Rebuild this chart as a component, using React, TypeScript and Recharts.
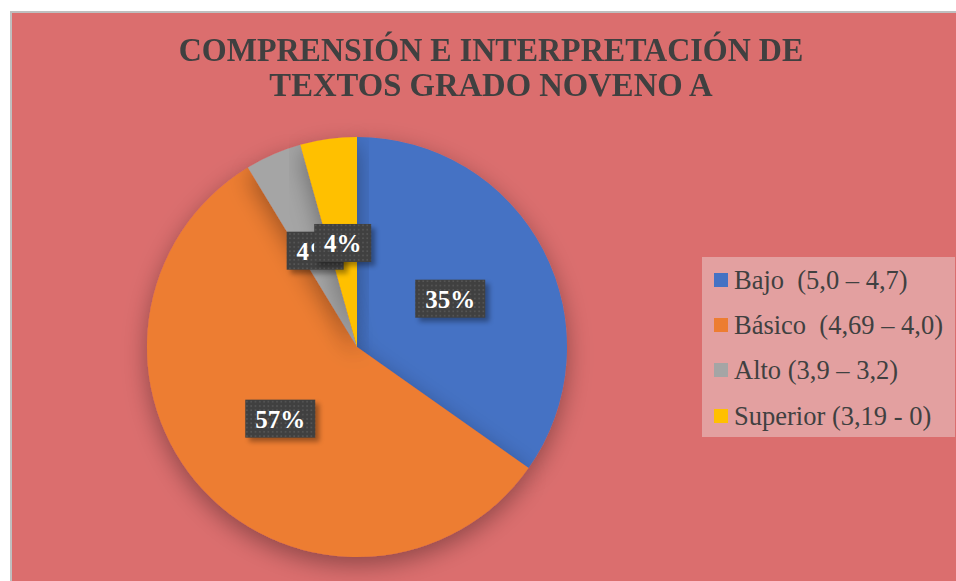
import { Legend, Pie, PieChart } from "recharts";

const categories = [
  "Bajo  (5,0 – 4,7)",
  "Básico  (4,69 – 4,0)",
  "Alto (3,9 – 3,2)",
  "Superior (3,19 - 0)",
];
const students = [8, 13, 1, 1];
const colors = ["#4472C4", "#ED7D31", "#A5A5A5", "#FFC000"];

const data = categories.map((name, i) => ({
  name,
  value: students[i],
  fill: colors[i],
}));

const RADIAN = Math.PI / 180;

/** 조각 가운데(반지름 절반) 어두운 상자 라벨 */
function BoxLabel(props: any) {
  const { cx, cy, midAngle, outerRadius, percent } = props;
  const r = outerRadius * 0.5;
  const x = cx + r * Math.cos(-midAngle * RADIAN);
  const y = cy + r * Math.sin(-midAngle * RADIAN);
  const text = `${Math.round(percent * 100)}%`;
  const w = text.length === 3 ? 70 : 57;
  const h = 38;
  return (
    <g>
      <rect
        x={x - w / 2 + 4}
        y={y - h / 2 + 4}
        width={w}
        height={h}
        fill="#000"
        opacity={0.35}
        filter="url(#boxBlur)"
      />
      <rect x={x - w / 2} y={y - h / 2} width={w} height={h} fill="url(#dots)" />
      <text
        x={x}
        y={y + 9}
        textAnchor="middle"
        fill="#fff"
        fontFamily="'Liberation Serif', 'Times New Roman', serif"
        fontWeight="bold"
        fontSize={25}
      >
        {text}
      </text>
    </g>
  );
}

function LegendBox({ payload }: any) {
  const items = [...(payload ?? [])].sort(
    (a: any, b: any) => categories.indexOf(a.value) - categories.indexOf(b.value)
  );
  return (
    <div
      style={{
        width: 253,
        height: 180,
        background: "#E3A0A0",
        boxSizing: "border-box",
        paddingTop: 0,
        paddingLeft: 12,
      }}
    >
      {items.map((p: any) => (
        <div
          key={p.value}
          style={{ display: "flex", alignItems: "center", height: 45.3 }}
        >
          <span
            style={{
              display: "inline-block",
              width: 14,
              height: 14,
              background: p.color,
              marginRight: 6,
            }}
          />
          <span
            style={{
              fontFamily: "'Liberation Serif', 'Times New Roman', serif",
              fontSize: 26.5,
              color: "#404040",
              whiteSpace: "pre",
              lineHeight: "26px",
            }}
          >
            {p.value}
          </span>
        </div>
      ))}
    </div>
  );
}

export default function App() {
  return (
    <div
      style={{
        position: "absolute",
        left: 0,
        top: 0,
        width: 956,
        height: 581,
        background: "#fff",
        overflow: "hidden",
      }}
    >
      <svg width={0} height={0} style={{ position: "absolute" }}>
        <defs>
          <pattern id="dots" width={4.3} height={4.3} patternUnits="userSpaceOnUse">
            <rect width={4.3} height={4.3} fill="#404040" />
            <rect x={1} y={1} width={1.6} height={1.6} fill="#575757" />
          </pattern>
          <filter id="boxBlur" x="-30%" y="-30%" width="160%" height="160%">
            <feGaussianBlur stdDeviation={2.5} />
          </filter>
          <filter id="pieShadow" x="-20%" y="-20%" width="140%" height="140%">
            <feDropShadow dx={0} dy={8} stdDeviation={12} floodColor="#000" floodOpacity={0.35} />
          </filter>
        </defs>
      </svg>
      <div
        style={{
          position: "absolute",
          left: 10,
          top: 11,
          width: 946,
          height: 570,
          background: "#DB6E6E",
          borderLeft: "2px solid #BFBFBF",
          borderTop: "2px solid #BFBFBF",
          boxSizing: "border-box",
        }}
      />
      <div
        style={{
          position: "absolute",
          left: 0,
          width: 982,
          top: 33,
          textAlign: "center",
          fontFamily: "'Liberation Serif', 'Times New Roman', serif",
          fontWeight: "bold",
          fontSize: 33,
          lineHeight: "35px",
          color: "#404040",
        }}
      >
        <div style={{ transform: "scaleX(0.97)" }}>COMPRENSIÓN E INTERPRETACIÓN DE</div>
        <div style={{ transform: "scaleX(0.99)" }}>TEXTOS GRADO NOVENO A</div>
      </div>
      <div style={{ position: "absolute", left: 0, top: 0 }}>
        <PieChart width={956} height={581} margin={{ top: 0, right: 0, bottom: 0, left: 0 }}>
          <Pie
            data={data}
            dataKey="value"
            nameKey="name"
            cx={357}
            cy={347}
            outerRadius={210}
            startAngle={90}
            endAngle={-270}
            stroke="none"
            label={BoxLabel}
            labelLine={false}
            isAnimationActive={false}
            style={{ filter: "url(#pieShadow)" }}
          />
          <Legend
            content={<LegendBox />}
            wrapperStyle={{ position: "absolute", left: 702, top: 257, width: 253 }}
          />
        </PieChart>
      </div>
    </div>
  );
}
